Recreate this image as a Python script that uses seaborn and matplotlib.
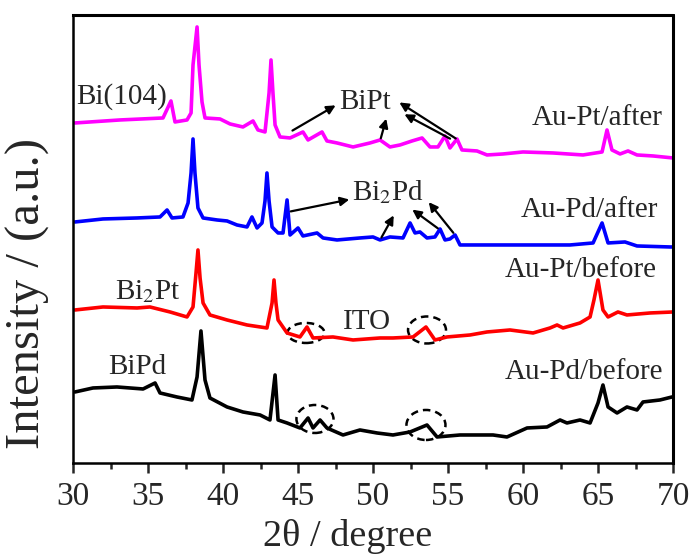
import numpy as np
import pandas as pd
import seaborn as sns
import matplotlib.pyplot as plt
from matplotlib.patches import Ellipse

# 2theta (degree) and intensity (a.u.), one pair per sample
tt_pt_after = [30.13, 33.13, 36.0, 36.53, 36.8, 37.6, 37.87, 38.0, 38.27, 38.4, 38.6, 38.8, 39.8, 40.47,
               41.33, 42.0, 42.33, 42.8, 43.07, 43.2, 43.33, 43.47, 43.8, 44.47, 45.33, 45.67, 46.6,
               46.93, 47.6, 48.67, 49.8, 50.47, 51.13, 51.8, 52.6, 53.27, 53.8, 54.33, 54.8, 55.13,
               55.6, 55.93, 56.93, 57.6, 58.67, 60.0, 62.0, 64.0, 65.27, 65.6, 65.93, 66.47, 67.0,
               67.6, 68.67, 70.0]
i_pt_after = [340, 343, 345, 362, 341, 343, 350, 398, 436, 398, 361, 345, 344, 339,
              336, 342, 333, 331, 370, 403, 370, 338, 326, 325, 331, 323, 331,
              322, 320, 316, 320, 323, 316, 318, 322, 325, 316, 316, 327, 315,
              324, 313, 312, 308, 309, 311, 310, 308, 311, 333, 313, 309, 312,
              308, 307, 305]

tt_pd_after = [30.13, 32.0, 34.27, 35.8, 36.27, 36.6, 37.33, 37.67, 37.87, 38.0, 38.13, 38.33, 38.67,
               39.6, 40.27, 40.93, 41.6, 41.93, 42.27, 42.6, 42.8, 42.93, 43.07, 43.27, 43.67, 44.0,
               44.27, 44.47, 45.0, 45.33, 46.27, 46.67, 47.6, 49.13, 50.0, 50.47, 51.13, 52.0,
               52.47, 52.8, 53.13, 53.6, 54.13, 54.47, 54.8, 55.13, 55.47, 55.8, 56.93, 58.67,
               60.93, 63.13, 64.67, 65.27, 65.67, 66.8, 67.6, 69.8, 70.0]
i_pd_after = [241, 244, 245, 246, 253, 245, 246, 260, 290, 324, 290, 255, 245,
              243, 242, 238, 236, 246, 235, 240, 262, 290, 262, 236, 230, 230,
              263, 228, 235, 227, 230, 225, 223, 225, 226, 223, 226, 225,
              240, 230, 231, 225, 226, 234, 223, 224, 228, 218, 218, 218,
              218, 218, 220, 240, 220, 221, 217, 216, 216]

tt_pt_before = [30.13, 32.0, 34.27, 35.13, 36.47, 37.6, 38.0, 38.2, 38.33, 38.47, 38.67, 39.13, 40.27,
                41.6, 42.93, 43.27, 43.4, 43.53, 43.67, 44.27, 45.13, 45.6, 46.0, 47.33, 48.67,
                50.47, 51.33, 52.67, 53.53, 54.13, 54.93, 56.47, 57.6, 59.13, 60.67, 61.8, 62.27,
                62.67, 63.8, 64.47, 64.73, 65.0, 65.33, 65.67, 66.33, 66.93, 68.47, 70.0]
i_pt_before = [153, 156, 155, 156, 151, 146, 156, 190, 213, 185, 160, 148, 143,
               138, 135, 160, 183, 160, 143, 130, 126, 136, 125, 126, 123,
               125, 125, 126, 136, 123, 126, 128, 131, 133, 130, 135, 138,
               135, 140, 146, 163, 183, 153, 146, 151, 148, 150, 151]

tt_pd_before = [30.13, 31.33, 32.93, 34.67, 35.47, 35.8, 36.93, 37.93, 38.27, 38.53, 38.8, 39.13, 40.27,
                41.33, 42.47, 43.13, 43.47, 43.67, 44.27, 45.13, 45.67, 46.0, 46.47, 46.93, 48.0,
                49.13, 50.27, 51.33, 52.47, 53.6, 54.27, 55.8, 58.0, 58.93, 60.27, 61.6, 62.47,
                62.93, 63.8, 64.47, 65.0, 65.33, 65.67, 66.27, 66.93, 67.6, 68.0, 69.13, 69.93]
i_pd_before = [71, 75, 76, 74, 80, 70, 66, 63, 86, 132, 83, 65, 56,
               51, 48, 43, 88, 43, 40, 35, 45, 35, 43, 35, 28,
               33, 30, 28, 31, 38, 26, 28, 28, 26, 35, 36, 43,
               40, 43, 40, 60, 78, 56, 50, 56, 53, 61, 63, 66]

samples = ["Au-Pt/after", "Au-Pd/after", "Au-Pt/before", "Au-Pd/before"]
colors = ["#ff00ff", "#0000ff", "#ff0000", "#000000"]

sns.set_style("ticks")
plt.rcParams['font.family'] = ['Liberation Serif', 'DejaVu Serif']
plt.rcParams['mathtext.fontset'] = 'stix'

fig = plt.figure(figsize=(6.98, 5.56), dpi=100)
ax = fig.add_axes([0.1046, 0.1673, 0.8596, 0.8058])

curves = [(tt_pt_after, i_pt_after), (tt_pd_after, i_pd_after),
          (tt_pt_before, i_pt_before), (tt_pd_before, i_pd_before)]
for (tt, inten), name, c in zip(curves, samples, colors):
    df = pd.DataFrame({"tt": tt, "I": inten})
    sns.lineplot(data=df, x="tt", y="I", color=c, lw=2.6, sort=False, estimator=None, ax=ax)

ax.set_xlim(30, 70)
ax.set_ylim(0, 448)
ax.set_xticks(np.arange(30, 71, 5))
ax.set_xticks(np.arange(32.5, 70, 5), minor=True)
ax.set_yticks([])
ax.tick_params(axis='x', which='major', direction='out', length=7, width=1.8, labelsize=24, pad=6)
ax.tick_params(axis='x', which='minor', direction='out', length=4, width=1.8)
for s in ax.spines.values():
    s.set_visible(True)
    s.set_linewidth(1.8)
    s.set_color('black')
# top and right edges of the box, drawn as lines
ax.plot([0, 1, 1], [1, 1, 0], transform=ax.transAxes, color='black', lw=2.2,
        clip_on=False, zorder=6, solid_capstyle='projecting')
ax.set_xlabel("")
ax.set_ylabel("")
fig.text(348 / 698, 1 - 536 / 556, "2θ / degree", fontsize=27.5, ha='center', va='center')
fig.text(28 / 698, 1 - 293 / 556, "Intensity / (a.u.)", fontsize=35, rotation=90,
         ha='center', va='center')

fs = 21
ax.text(69.33, 345, "Au-Pt/after", fontsize=fs, ha='right', va='center')
ax.text(69.0, 253, "Au-Pd/after", fontsize=fs, ha='right', va='center')
ax.text(68.93, 193, "Au-Pt/before", fontsize=fs, ha='right', va='center')
ax.text(69.33, 91, "Au-Pd/before", fontsize=fs, ha='right', va='center')
ax.text(30.2, 366, "Bi(104)", fontsize=fs, ha='left', va='center')
ax.text(35.0, 171, "Bi$_2$Pt", fontsize=fs, ha='center', va='center')
ax.text(34.27, 96, "BiPd", fontsize=fs, ha='center', va='center')
ax.text(49.6, 141, "ITO", fontsize=fs, ha='center', va='center')
ax.text(49.47, 361, "BiPt", fontsize=fs, ha='center', va='center')
ax.text(51.0, 271, "Bi$_2$Pd", fontsize=fs, ha='center', va='center')

arrow = dict(arrowstyle='-|>', color='black', lw=1.6, mutation_scale=13)
for start, end in [((44.47, 331), (47.67, 359)), ((50.47, 322), (50.93, 347)),
                   ((55.67, 323), (51.6, 362)), ((55.3, 323), (51.93, 350))]:
    ax.annotate("", xy=end, xytext=start, arrowprops=arrow)
for start, end in [((44.33, 251), (48.6, 264)), ((50.47, 223), (51.47, 250)),
                   ((54.47, 233), (52.47, 255)), ((55.47, 228), (53.6, 263))]:
    ax.annotate("", xy=end, xytext=start, arrowprops=arrow)

for cx, cy, w, h in [(45.53, 130, 2.47, 20), (53.6, 133, 2.53, 27),
                     (46.13, 44, 2.47, 28), (53.53, 38, 2.6, 30)]:
    ax.add_patch(Ellipse((cx, cy), w, h, fill=False, ls=(0, (3, 2)), lw=1.8, ec='black'))

fig.savefig("out.png", dpi=100)
